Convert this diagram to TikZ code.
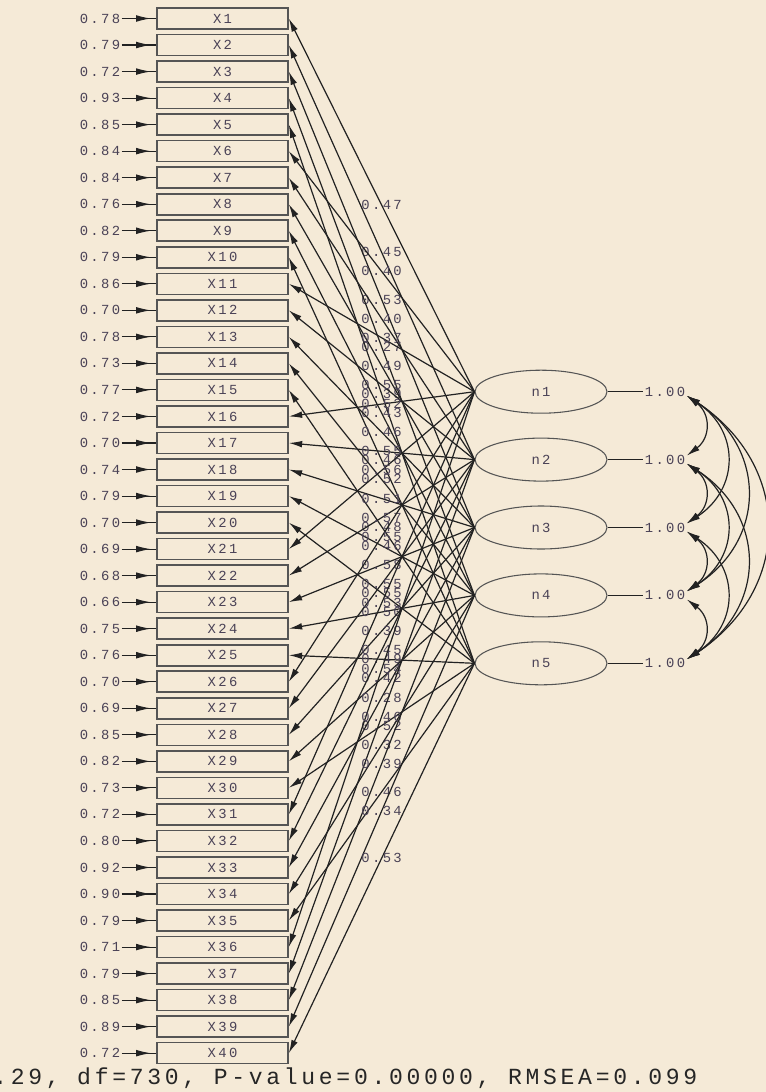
\documentclass[tikz,border=0pt]{standalone}
\usepackage{fontspec}
\usetikzlibrary{arrows.meta,shapes.geometric}
\newfontfamily\lis[LetterSpace=17]{Liberation Mono}
\newfontfamily\lisb[LetterSpace=16]{Liberation Mono}
\definecolor{bg}{HTML}{F5EAD7}
\definecolor{txt}{HTML}{4A4256}
\definecolor{ln}{HTML}{222222}
\definecolor{bx}{HTML}{555555}
\begin{document}
\begin{tikzpicture}[x=0.75pt,y=-0.75pt,
  sm/.style={font=\lis\fontsize{10.4}{11}\selectfont, text=txt, inner sep=1pt},
  obs/.style={draw=bx, line width=1.2pt, minimum width=98.25pt, minimum height=15.75pt, inner sep=0pt, font=\lis\fontsize{10.4}{11}\selectfont, text=txt},
  lat/.style={ellipse, draw=bx, line width=0.8pt, minimum width=99pt, minimum height=32.25pt, inner sep=0pt, font=\lis\fontsize{10.4}{11}\selectfont, text=txt},
  load/.style={draw=ln, line width=0.9pt, -{Latex[length=10pt,width=5pt]}},
  errline/.style={draw=ln, line width=0.8pt},
  errtip/.style={draw=ln, line width=0.8pt, -{Latex[length=11pt,width=5pt]}, shorten >=4pt},
  cov/.style={draw=ln, line width=0.9pt, {Latex[length=10pt,width=5pt]}-{Latex[length=10pt,width=5pt]}},
  stattext/.style={font=\lisb\fontsize{17.3}{18}\selectfont, text=black!85, inner sep=0pt, anchor=west}
]
\fill[bg] (0,0) rectangle (766,1092);
\useasboundingbox (0,0) rectangle (766,1092);

% observed variables with error variances
\foreach \e [count=\i] in {0.78,0.79,0.72,0.93,0.85,0.84,0.84,0.76,0.82,0.79,0.86,0.70,0.78,0.73,0.77,0.72,0.70,0.74,0.79,0.70,0.69,0.68,0.66,0.75,0.76,0.70,0.69,0.85,0.82,0.73,0.72,0.80,0.92,0.90,0.79,0.71,0.79,0.85,0.89,0.72}{
  \pgfmathsetmacro\yy{18.5+(\i-1)*26.53}
  \node[obs] (x\i) at (222.5,\yy) {X\i};
  \node[sm] (e\i) at (100,\yy) {\e};
  \draw[errline] (e\i.east) -- (x\i.west);
  \draw[errtip] (e\i.east) -- (x\i.west);
}

% latent variables
\foreach \k in {1,...,5}{
  \pgfmathsetmacro\yy{391.7+(\k-1)*67.9}
  \node[lat] (n\k) at (541,\yy) {n\k};
  \node[sm] (v\k) at (665,\yy) {1.00};
  \draw[errline] (n\k.east) -- (v\k.west);
}

% loadings
\foreach \l [count=\i] in {0.47,0.45,0.53,0.27,0.39,0.40,0.40,0.49,0.43,0.46,0.37,0.55,0.46,0.52,0.48,0.52,0.55,0.51,0.46,0.55,0.56,0.57,0.58,0.50,0.49,0.55,0.55,0.39,0.42,0.52,0.53,0.45,0.28,0.32,0.46,0.54,0.46,0.39,0.34,0.53}{
  \pgfmathtruncatemacro\k{mod(\i-1,5)+1}
  \draw[load] (n\k.west) -- node[sm, pos=0.5]{\l} (x\i.east);
}

% covariances
\foreach \a/\b/\c/\h in {1/2/24/18, 2/3/24/18, 3/4/24/18, 4/5/24/18, 1/3/53/35, 2/4/53/35, 3/5/53/35, 1/4/80/52, 2/5/80/52, 1/5/106/70}{
  \draw[cov] ([yshift=-3pt]v\a.east) .. controls +(\c,\h) and +(\c,-\h) .. ([yshift=3pt]v\b.east);
}

\node[stattext] (stat) at (-7,1078) {.29, df=730, P-value=0.00000, RMSEA=0.099};
\end{tikzpicture}
\end{document}
